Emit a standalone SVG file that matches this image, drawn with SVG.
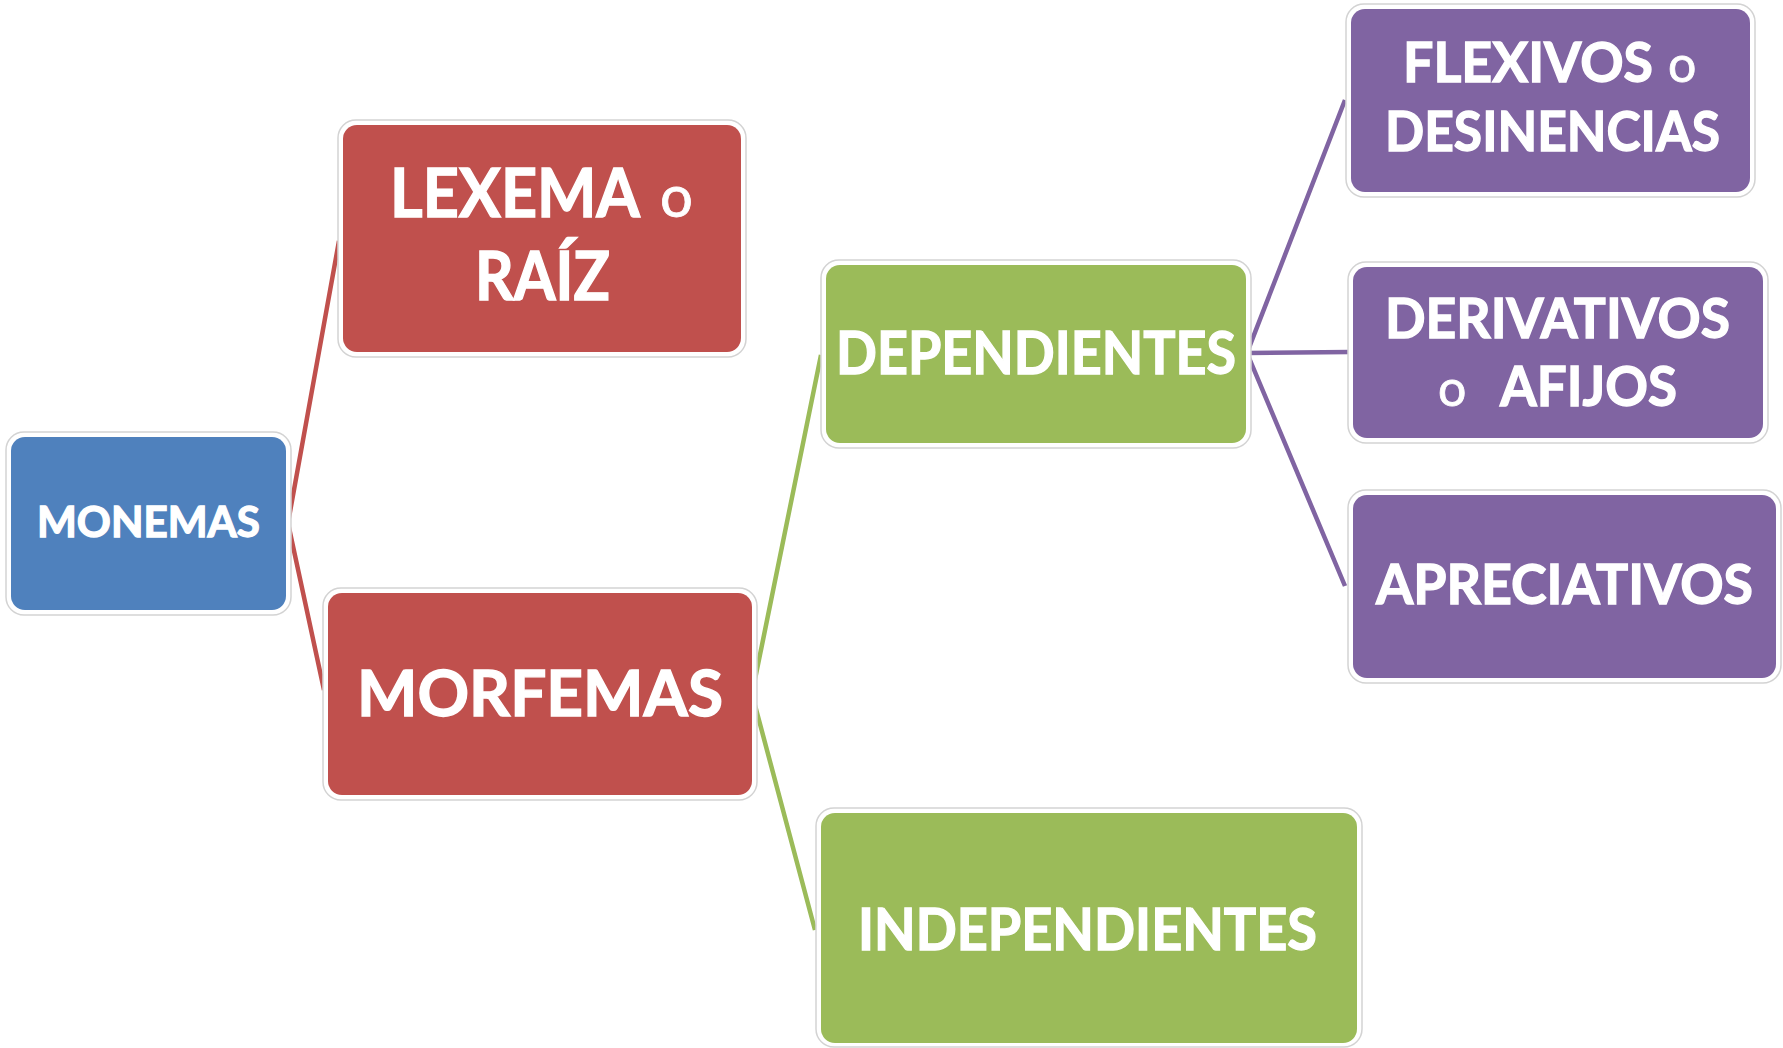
<svg xmlns="http://www.w3.org/2000/svg" width="1783" height="1048" viewBox="0 0 1783 1048">
<style>
.frame{fill:#ffffff;stroke:#d3d3d3;stroke-width:1.5}
.blue{fill:#4F81BD}
.red{fill:#C0504D}
.green{fill:#9BBB59}
.purple{fill:#8064A2}
.t{font-family:Lato,"Open Sans","Liberation Sans",sans-serif;font-weight:700;fill:#ffffff;stroke:#ffffff;stroke-width:1.3}
.o{font-weight:400;stroke-width:0.8}
.cr{stroke:#C0504D;stroke-width:4.5;fill:none}
.cg{stroke:#9BBB59;stroke-width:4.5;fill:none}
.cp{stroke:#8064A2;stroke-width:4.5;fill:none}
</style>
<rect width="1783" height="1048" fill="#ffffff"/>
<g id="connectors">
<polyline class="cr" points="339,241 288,523 324,690"/>
<polyline class="cg" points="821,355 752,694 815,930"/>
<polyline class="cp" points="1345,100 1247,353 1345,586"/>
<line class="cp" x1="1247" y1="353" x2="1350" y2="352"/>
</g>
<g id="monemas">
<rect class="frame" x="6" y="432" width="285" height="183" rx="18"/>
<rect class="blue" x="11" y="437" width="275" height="173" rx="14"/>
<text class="t" x="37" y="537" font-size="42" textLength="223" lengthAdjust="spacingAndGlyphs">MONEMAS</text>
</g>
<g id="lexema">
<rect class="frame" x="338" y="120" width="408" height="237" rx="18"/>
<rect class="red" x="343" y="125" width="398" height="227" rx="14"/>
<text class="t" x="390" y="217" font-size="66" textLength="250" lengthAdjust="spacingAndGlyphs">LEXEMA</text>
<text class="t o" x="660" y="217" font-size="58">o</text>
<text class="t" x="475" y="300" font-size="66" textLength="135" lengthAdjust="spacingAndGlyphs">RAÍZ</text>
</g>
<g id="morfemas">
<rect class="frame" x="323" y="588" width="434" height="212" rx="18"/>
<rect class="red" x="328" y="593" width="424" height="202" rx="14"/>
<text class="t" x="357" y="716" font-size="64" textLength="366" lengthAdjust="spacingAndGlyphs">MORFEMAS</text>
</g>
<g id="dependientes">
<rect class="frame" x="821" y="260" width="430" height="188" rx="18"/>
<rect class="green" x="826" y="265" width="420" height="178" rx="14"/>
<text class="t" x="836" y="374" font-size="60" textLength="400" lengthAdjust="spacingAndGlyphs">DEPENDIENTES</text>
</g>
<g id="independientes">
<rect class="frame" x="816" y="808" width="546" height="239" rx="18"/>
<rect class="green" x="821" y="813" width="536" height="230" rx="14"/>
<text class="t" x="858" y="950" font-size="58" textLength="459" lengthAdjust="spacingAndGlyphs">INDEPENDIENTES</text>
</g>
<g id="flexivos">
<rect class="frame" x="1346" y="4" width="409" height="193" rx="18"/>
<rect class="purple" x="1351" y="9" width="399" height="183" rx="14"/>
<text class="t" x="1403" y="82" font-size="56" textLength="250" lengthAdjust="spacingAndGlyphs">FLEXIVOS</text>
<text class="t o" x="1668" y="82" font-size="50">o</text>
<text class="t" x="1385" y="151" font-size="56" textLength="335" lengthAdjust="spacingAndGlyphs">DESINENCIAS</text>
</g>
<g id="derivativos">
<rect class="frame" x="1348" y="262" width="420" height="181" rx="18"/>
<rect class="purple" x="1353" y="267" width="410" height="171" rx="14"/>
<text class="t" x="1385" y="338" font-size="56" textLength="345" lengthAdjust="spacingAndGlyphs">DERIVATIVOS</text>
<text class="t o" x="1438" y="406" font-size="50">o</text>
<text class="t" x="1500" y="406" font-size="56" textLength="177" lengthAdjust="spacingAndGlyphs">AFIJOS</text>
</g>
<g id="apreciativos">
<rect class="frame" x="1348" y="490" width="433" height="193" rx="18"/>
<rect class="purple" x="1353" y="495" width="423" height="183" rx="14"/>
<text class="t" x="1376" y="604" font-size="56" textLength="377" lengthAdjust="spacingAndGlyphs">APRECIATIVOS</text>
</g>
</svg>
